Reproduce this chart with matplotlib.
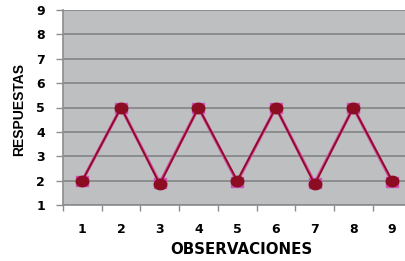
import numpy as np
import matplotlib
matplotlib.use('Agg')
import matplotlib.pyplot as plt

# data
observaciones = [1, 2, 3, 4, 5, 6, 7, 8, 9]
serie_cuadros = [2, 5, 1.9, 5, 1.95, 5, 1.9, 5, 1.95]
serie_circulos = [2, 5, 1.85, 5, 2, 5, 1.85, 5, 2]
y_ticks = [1, 2, 3, 4, 5, 6, 7, 8, 9]

plt.rcParams['font.family'] = ['DejaVu Sans']

# the original picture is stretched sideways: wide markers
t = np.linspace(0, 2 * np.pi, 40)
elipse = list(zip(1.2 * np.cos(t), np.sin(t)))
rect = [(-1.15, -1), (1.15, -1), (1.15, 1), (-1.15, 1), (-1.15, -1)]

fig = plt.figure(figsize=(4.06, 2.61), dpi=100)
ax = fig.add_axes([63 / 406, 1 - 205 / 261, 1 - 63 / 406, 195 / 261])
ax.set_facecolor('#bdbfc1')

ax.plot(observaciones, serie_cuadros, '-', color='#d64fa8', lw=2.3,
        marker=rect, ms=8.5, mfc='#d050b8', mec='#d050b8', zorder=3)
ax.plot(observaciones, serie_circulos, '-', color='#8c0c22', lw=1.3,
        marker=elipse, ms=9, mfc='#8c0c22', mec='#8c0c22', zorder=4)

ax.set_ylim(1, 9)
ax.set_xlim(0.5, 9.36)
ax.set_yticks(y_ticks)
ax.set_xticks(observaciones)
ax.set_xticks([i + 0.5 for i in range(0, 9)], minor=True)
ax.grid(axis='y', color='#828486', lw=1.2)
ax.set_axisbelow(True)

for s in ['top', 'right']:
    ax.spines[s].set_visible(False)
for s in ['left', 'bottom']:
    ax.spines[s].set_color('#8a8c8e')
    ax.spines[s].set_linewidth(1.2)

ax.tick_params(axis='x', which='major', length=0, pad=13, labelsize=9)
ax.tick_params(axis='x', which='minor', length=4, color='#8a8c8e', width=1)
ax.tick_params(axis='y', length=5, color='#8a8c8e', width=1, labelsize=9, pad=8)
for lab in ax.get_xticklabels() + ax.get_yticklabels():
    lab.set_fontweight('bold')

fig.text(241 / 406, 1 - 250 / 261, 'OBSERVACIONES', ha='center', va='center',
         fontsize=10.8, fontweight='bold')
fig.text(19 / 406, 1 - 110 / 261, 'RESPUESTAS', ha='center', va='center',
         rotation=90, fontsize=10, fontweight='bold', family='Liberation Sans')

fig.savefig('out.png', dpi=100)
